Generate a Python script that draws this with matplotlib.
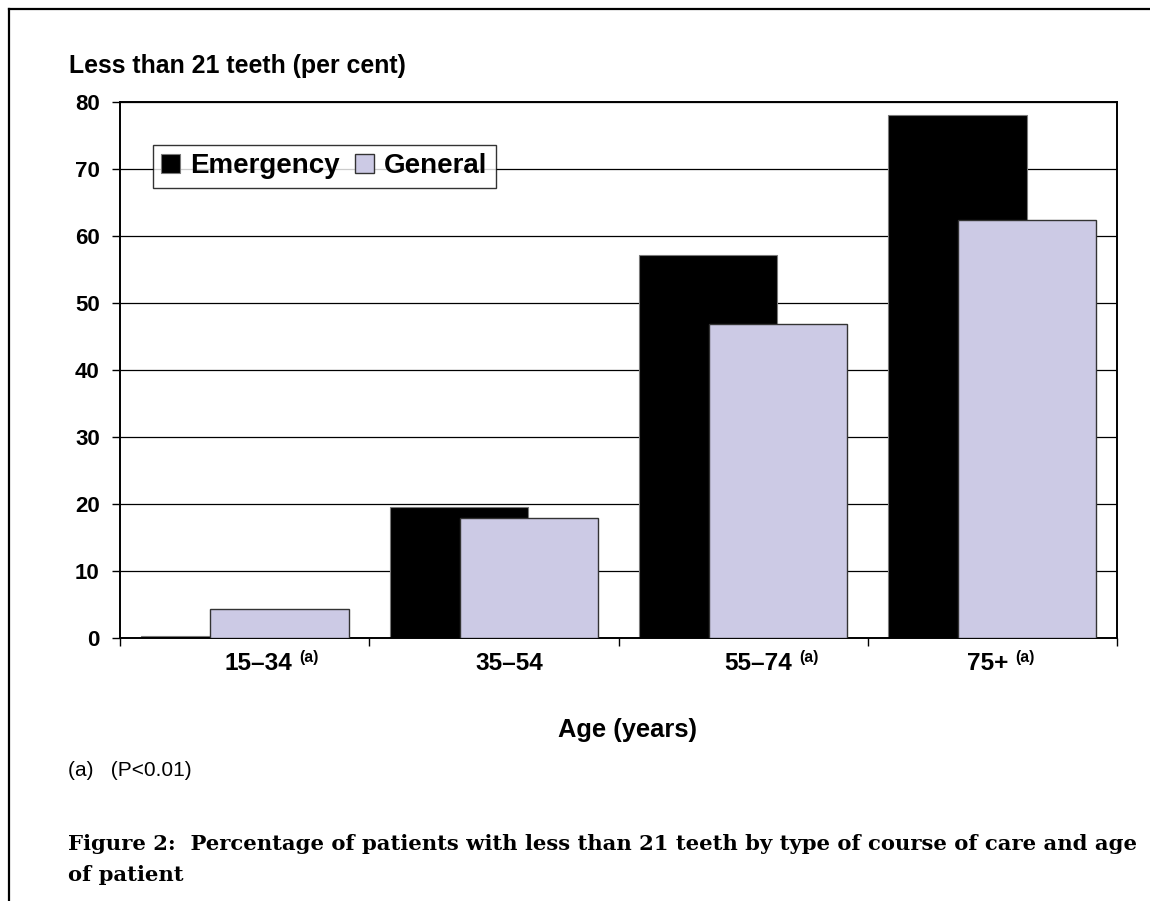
import matplotlib
matplotlib.use("Agg")
import matplotlib.pyplot as plt
import numpy as np
from matplotlib.lines import Line2D

W, H = 1150, 901

AGE_GROUPS = ["15\u201334", "35\u201354", "55\u201374", "75+"]
SIGNIFICANT = [True, False, True, True]
EMERGENCY = [0.3, 19.6, 57.1, 78.0]
GENERAL = [4.3, 17.9, 46.9, 62.4]
Y_TICKS = [0, 10, 20, 30, 40, 50, 60, 70, 80]

LABEL_SHIFT = [0.054, 0.06, 0.06, -0.018]   # excel puts the labels a bit off-centre
LAVENDER = "#CCCAE5"

plt.rcParams["font.family"] = ["Liberation Sans", "DejaVu Sans"]


def fx(px):
    return px / W


def fy(py):
    return 1 - py / H


def main():
    fig = plt.figure(figsize=(W / 100, H / 100), dpi=100)
    ax = fig.add_axes([fx(120), fy(638), fx(1117) - fx(120), fy(102) - fy(638)])

    x = np.arange(len(AGE_GROUPS))
    w = 0.555
    ax.bar(x - 0.14, EMERGENCY, width=w, color="black", edgecolor="#7a7a7a",
           linewidth=0.8, label="Emergency", zorder=2)
    ax.bar(x + 0.14, GENERAL, width=w, color=LAVENDER, edgecolor="#333333",
           linewidth=1.0, label="General", zorder=3)

    ax.set_xlim(-0.5, len(AGE_GROUPS) - 0.5)
    ax.set_ylim(0, 80)
    ax.set_yticks(Y_TICKS)
    ax.set_yticklabels([str(t) for t in Y_TICKS], fontsize=16, fontweight="bold")
    ax.set_xticks(np.arange(len(AGE_GROUPS) + 1) - 0.5)
    ax.set_xticklabels([])
    ax.tick_params(axis="both", direction="out", length=5.5, width=1, color="black")
    ax.tick_params(axis="y", pad=9)
    ax.yaxis.grid(True, color="black", linewidth=0.9, zorder=0)
    ax.set_axisbelow(True)
    for s in ax.spines.values():
        s.set_linewidth(1.4)
        s.set_color("black")

    # category labels, with the (a) footnote as a small superscript
    for i, (lab, sig) in enumerate(zip(AGE_GROUPS, SIGNIFICANT)):
        t = ax.annotate(lab, xy=(i + LABEL_SHIFT[i], fy(664)),
                        xycoords=("data", "figure fraction"),
                        ha="center", va="center", fontsize=17.6, fontweight="bold")
        if sig:
            ax.annotate("(a)", xy=(1, 1), xycoords=t, xytext=(5, 2),
                        textcoords="offset points", ha="left", va="top",
                        fontsize=11.4, fontweight="bold")

    leg = ax.legend(loc="upper left", bbox_to_anchor=(fx(153), fy(145)),
                    bbox_transform=fig.transFigure, ncol=2, frameon=True,
                    fancybox=False, prop={"size": 20, "weight": "bold"},
                    handlelength=0.68, handleheight=0.68, handletextpad=0.36,
                    columnspacing=0.55, borderpad=0.3, borderaxespad=0)
    leg.get_frame().set_edgecolor("black")
    leg.get_frame().set_linewidth(1.0)

    fig.text(fx(69), fy(73), "Less than 21 teeth (per cent)", fontsize=17.9,
             fontweight="bold", ha="left", va="baseline")
    fig.text(fx(627), fy(730), "Age (years)", fontsize=18.4, fontweight="bold",
             ha="center", va="center")
    fig.text(fx(68), fy(771), "(a)   (P<0.01)", fontsize=15, ha="left", va="center")
    fig.text(fx(68), fy(850),
             "Figure 2:  Percentage of patients with less than 21 teeth by type of course of care and age",
             fontsize=15.25, fontweight="bold", family="DejaVu Serif", ha="left", va="baseline")
    fig.text(fx(68), fy(881), "of patient", fontsize=15.25, fontweight="bold",
             family="DejaVu Serif", ha="left", va="baseline")

    # page frame: left and top edges only
    fig.add_artist(Line2D([fx(9), fx(9)], [0, fy(9)], color="black", lw=1.6,
                          transform=fig.transFigure))
    fig.add_artist(Line2D([fx(9), 1], [fy(9), fy(9)], color="black", lw=1.6,
                          transform=fig.transFigure))

    fig.savefig("out.png", dpi=100)
    plt.close(fig)


if __name__ == "__main__":
    main()
